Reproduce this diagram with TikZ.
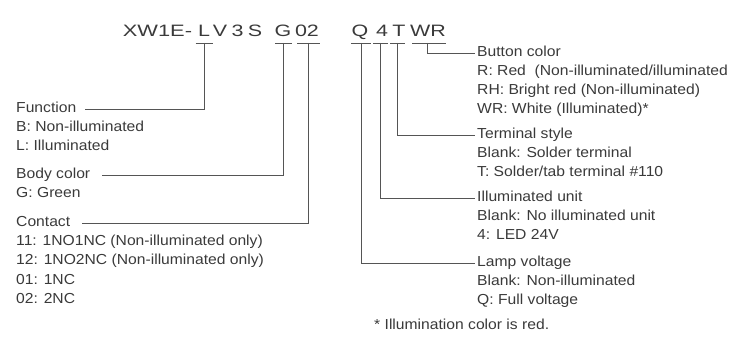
\documentclass[tikz,border=0pt]{standalone}
\usepackage{fontspec}
\setmainfont{Liberation Sans}
\usetikzlibrary{calc}
\definecolor{txt}{HTML}{3A3A3A}
\definecolor{ln}{HTML}{555555}
\begin{document}
\begin{tikzpicture}[x=1pt,y=-1pt,
  code/.style={font=\fontsize{16.5}{19}\selectfont, text=txt, inner sep=0pt, anchor=base, xscale=1.3},
  lbl/.style={font=\fontsize{14.5}{19}\selectfont, text=txt, inner sep=0pt, anchor=base west, xscale=1.08},
  conn/.style={draw=ln, line width=0.9pt},
  uline/.style={draw=ln, line width=0.9pt}]
\useasboundingbox (0,0) rectangle (732,342);
% model code
\node[code,anchor=base west,xscale=1.02] (cX) at (122.5,37) {XW1E-};
\node[code] (cL) at (204,37) {L};
\node[code] (cV) at (220,37) {V};
\node[code] (c3) at (237.5,37) {3};
\node[code] (cS) at (255,37) {S};
\node[code] (cG) at (283,37) {G};
\node[code] (c02) at (307,37) {02};
\node[code] (cQ) at (360,37) {Q};
\node[code] (c4) at (382,37) {4};
\node[code] (cT) at (399,37) {T};
\node[code] (cWR) at (428,37) {WR};
% underline points
\coordinate (uL) at ($(cL.base)+(0,6)$);
\coordinate (uG) at ($(cG.base)+(0.5,6)$);
\coordinate (u02) at ($(c02.base)+(1.5,6)$);
\coordinate (uQ) at ($(cQ.base)+(1,6)$);
\coordinate (u4) at ($(c4.base)+(-1.5,6)$);
\coordinate (uT) at ($(cT.base)+(-1.5,6)$);
\coordinate (uWR) at ($(cWR.base)+(-1,6)$);
\draw[uline] ($(uL)+(-8.5,0)$) -- ($(uL)+(8.5,0)$);
\draw[uline] ($(uG)+(-8.5,0)$) -- ($(uG)+(8.5,0)$);
\draw[uline] ($(u02)+(-11.5,0)$) -- ($(u02)+(11.5,0)$);
\draw[uline] ($(uQ)+(-10,0)$) -- ($(uQ)+(10,0)$);
\draw[uline] ($(u4)+(-7.5,0)$) -- ($(u4)+(7.5,0)$);
\draw[uline] ($(uT)+(-7.5,0)$) -- ($(uT)+(7.5,0)$);
\draw[uline] ($(uWR)+(-15,0)$) -- ($(uWR)+(19,0)$);
% left labels
\node[lbl] (fun) at (16,113) {Function};
\node[lbl] (funB) at (16,132) {B: Non-illuminated};
\node[lbl] (funL) at (16,151) {L: Illuminated};
\node[lbl] (body) at (16,179) {Body color};
\node[lbl] (bodyG) at (16,198) {G: Green};
\node[lbl] (con) at (16,227) {Contact};
\node[lbl] (con1) at (16,246) {11: 1NO1NC (Non-illuminated only)};
\node[lbl] (con2) at (16,265) {12: 1NO2NC (Non-illuminated only)};
\node[lbl] (con3) at (16,284) {01: 1NC};
\node[lbl] (con4) at (16,303) {02: 2NC};
% right labels
\node[lbl] (btn) at (477,57) {Button color};
\node[lbl] (btnR) at (477,76) {R: Red\ \ (Non-illuminated/illuminated};
\node[lbl] (btnRH) at (477,95) {RH: Bright red (Non-illuminated)};
\node[lbl] (btnWR) at (477,114) {WR: White (Illuminated)*};
\node[lbl] (term) at (477,139) {Terminal style};
\node[lbl] (termB) at (477,158) {Blank: Solder terminal};
\node[lbl] (termT) at (477,177) {T: Solder/tab terminal \#110};
\node[lbl] (ill) at (477,202) {Illuminated unit};
\node[lbl] (illB) at (477,221) {Blank: No illuminated unit};
\node[lbl] (ill4) at (477,240) {4: LED 24V};
\node[lbl] (lamp) at (477,267) {Lamp voltage};
\node[lbl] (lampB) at (477,286) {Blank: Non-illuminated};
\node[lbl] (lampQ) at (477,305) {Q: Full voltage};
\node[lbl] (note) at (374,330) {* Illumination color is red.};
% connectors
\draw[conn] (uL) |- ($(fun.base east)+(9,-3.5)$);
\draw[conn] (uG) |- ($(body.base east)+(12,-4)$);
\draw[conn] (u02) |- ($(con.base east)+(12,-4)$);
\draw[conn] (uWR) |- ($(btn.base west)+(-2,-4)$);
\draw[conn] (uT) |- ($(term.base west)+(-2,-4)$);
\draw[conn] (u4) |- ($(ill.base west)+(-2,-4)$);
\draw[conn] (uQ) |- ($(lamp.base west)+(-2,-4)$);
\end{tikzpicture}
\end{document}
